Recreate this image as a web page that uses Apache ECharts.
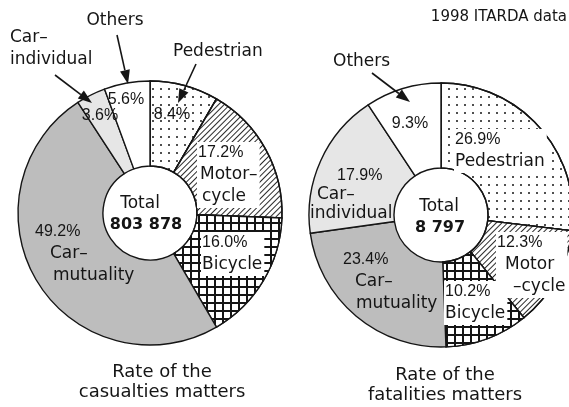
<!DOCTYPE html>
<html>
<head>
<meta charset="utf-8">
<script src="https://cdn.jsdelivr.net/npm/echarts@6/dist/echarts.min.js"></script>
<style>
  html, body { margin: 0; background: #fff; }
  #chart { width: 569px; height: 407px; }
</style>
</head>
<body>
<div id="chart"></div>
<script>
// data
const categories = ['Pedestrian', 'Motorcycle', 'Bicycle', 'Car-mutuality', 'Car-individual', 'Others']
const casualtyRates = [8.4, 17.2, 16.0, 49.2, 3.6, 5.6]
const fatalityRates = [26.9, 12.3, 10.2, 23.4, 17.9, 9.3]
const totals = [803878, 8797]
const casualtyNames = ['', 'Motor–\ncycle', 'Bicycle', 'Car–\nmutuality', '', '']
const fatalityNames = ['Pedestrian', 'Motor\n–cycle', 'Bicycle', 'Car–\nmutuality', 'Car–\nindividual', '']
const titles = ['Rate of the\ncasualties matters', 'Rate of the\nfatalities matters']
const source = '1998 ITARDA data'

const ink = '#151515'
const wordFont = 'DejaVu Sans'
const numFont = 'Liberation Sans'

// one fill per category, same order as categories
const fills = [
    {color: '#fff', decal: {symbol: 'circle', symbolSize: 1, color: ink, dashArrayX: [2, 6], dashArrayY: [2, 6]}},
    {color: '#fff', decal: {symbol: 'rect', symbolSize: 1, color: '#2a2a2a', dashArrayX: [1, 0], dashArrayY: [1, 3], rotation: -Math.PI / 4}},
    {color: ink, decal: {symbol: 'rect', symbolSize: 1, color: '#fff', dashArrayX: [6, 2], dashArrayY: [6, 2]}},
    {color: '#bdbdbd'},
    {color: '#e6e6e6'},
    {color: '#fff'}
]

// where the text inside each slice sits
const casualtyLayout = [
    {x: 172, y: 115, center: true},
    {x: 197, y: 142, indent: [0, 2, 4], bg: true},
    {x: 201, y: 232, indent: [0, 0], bg: true},
    {x: 35, y: 221, indent: [0, 15, 18]},
    {x: 100, y: 116, center: true},
    {x: 126, y: 100, center: true}
]
const fatalityLayout = [
    {x: 454, y: 129, indent: [0, 0], bg: true},
    {x: 496, y: 232, indent: [0, 8, 16], bg: true},
    {x: 444, y: 281, indent: [0, 0], bg: true},
    {x: 343, y: 249, indent: [0, 12, 13]},
    {x: 310, y: 166, indent: [27, 7, 0], lh: 19},
    {x: 410, y: 124, center: true}
]

function itemLabel(value, name, lay) {
    const lh = lay.lh || 22
    const lines = [value.toFixed(1) + '%'].concat(name ? name.split('\n') : [])
    const rich = {}
    lines.forEach((t, k) => {
        rich['l' + k] = {
            fontFamily: k === 0 ? numFont : wordFont,
            fontSize: k === 0 ? 16 : 17,
            lineHeight: lh,
            color: ink,
            padding: [0, 0, 0, lay.indent ? lay.indent[k] : 0]
        }
    })
    return {
        show: true,
        formatter: lines.map((t, k) => '{l' + k + '|' + t + '}').join('\n'),
        rich: rich,
        backgroundColor: lay.bg ? '#fff' : 'transparent',
        padding: lay.bg ? [0, 2, 0, 1] : 0
    }
}

function pieSeries(center, rates, names, layout) {
    return {
        type: 'pie',
        center: center,
        radius: [47, 132],
        startAngle: 90,
        clockwise: true,
        silent: true,
        animation: false,
        avoidLabelOverlap: false,
        itemStyle: {borderColor: ink, borderWidth: 1.4},
        label: {position: 'inside'},
        labelLine: {show: false},
        labelLayout: p => {
            const lay = layout[p.dataIndex]
            return lay.center
                ? {x: lay.x, y: lay.y, align: 'center', verticalAlign: 'middle'}
                : {x: lay.x, y: lay.y, align: 'left', verticalAlign: 'top'}
        },
        data: categories.map((name, i) => ({
            name: name,
            value: rates[i],
            itemStyle: fills[i],
            label: itemLabel(rates[i], names[i], layout[i])
        }))
    }
}

function txt(text, x, y, opts = {}) {
    return {
        type: 'text', silent: true, z: 10,
        style: Object.assign({
            text: text, x: x, y: y,
            fontFamily: wordFont, fontSize: 17, fill: ink,
            textAlign: 'left', textVerticalAlign: 'middle'
        }, opts)
    }
}

function arrow(x1, y1, x2, y2) {
    const len = Math.hypot(x2 - x1, y2 - y1)
    const dx = (x2 - x1) / len, dy = (y2 - y1) / len
    const bx = x2 - dx * 14, by = y2 - dy * 14
    return [
        {type: 'line', silent: true, z: 10, shape: {x1: x1, y1: y1, x2: bx, y2: by}, style: {stroke: ink, lineWidth: 1.6}},
        {type: 'polygon', silent: true, z: 10,
            shape: {points: [[x2, y2], [bx - dy * 5, by + dx * 5], [bx + dy * 5, by - dx * 5]]},
            style: {fill: ink}}
    ]
}

const fmtTotal = n => String(n).replace(/\B(?=(\d{3})+(?!\d))/g, ' ')

const chart = echarts.init(document.getElementById('chart'), null, {renderer: 'canvas'})
chart.setOption({
    backgroundColor: '#fff',
    animation: false,
    series: [
        pieSeries([150, 213], casualtyRates, casualtyNames, casualtyLayout),
        pieSeries([441, 215], fatalityRates, fatalityNames, fatalityLayout)
    ],
    graphic: [
        txt(source, 567, 17, {fontSize: 15, textAlign: 'right'}),
        // casualties call-outs
        txt(categories[5], 115, 21, {textAlign: 'center'}),
        txt('Car–\nindividual', 10, 49, {lineHeight: 22}),
        txt(categories[0], 173, 52),
        ...arrow(117, 35, 128, 84),
        ...arrow(55, 75, 92, 103),
        ...arrow(196, 64, 178, 103),
        // fatalities call-out
        txt(categories[5], 333, 62),
        ...arrow(372, 73, 410, 102),
        // totals in the holes
        txt('Total', 140, 204, {textAlign: 'center'}),
        txt(fmtTotal(totals[0]), 146, 225, {textAlign: 'center', fontWeight: 'bold', fontSize: 16}),
        txt('Total', 439, 207, {textAlign: 'center'}),
        txt(fmtTotal(totals[1]), 440, 228, {textAlign: 'center', fontWeight: 'bold', fontSize: 16}),
        // captions
        txt(titles[0], 162, 382, {textAlign: 'center', fontSize: 18, lineHeight: 20}),
        txt(titles[1], 445, 385, {textAlign: 'center', fontSize: 18, lineHeight: 20})
    ]
})
</script>
</body>
</html>
